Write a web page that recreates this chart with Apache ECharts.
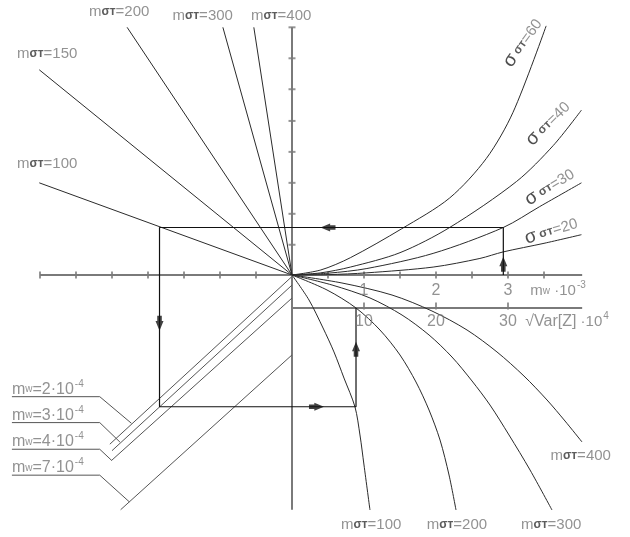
<!DOCTYPE html>
<html>
<head>
<meta charset="utf-8">
<script src="https://cdn.jsdelivr.net/npm/echarts@6/dist/echarts.min.js"></script>
<style>
html,body{margin:0;padding:0;background:#fff}
#nomo{width:630px;height:537px}
</style>
</head>
<body>
<div id="nomo"></div>
<script>
// x: mw in 1e-3 (sqrt Var[Z] in 1e-4 is x*10), y uses the same unit length
var mwTicks = [-3.5,-3,-2.5,-2,-1.5,-1,-0.5,0.5,1,1.5,2,2.5,3,3.5];
var mwTickLabels = [1,2,3];
var varTicks = [10,20,30];
var upperTicks = [0.42,0.85,1.28,1.71,2.14,2.58,3.01,3.44];
var varAxisY = -0.46;

// straight m_sigma_T rays, upper left (from origin)
var fanNames = [100,150,200,300,400];
var fanEnds = [[-3.51,1.28],[-3.51,2.85],[-2.29,3.44],[-0.96,3.44],[-0.53,3.44]];

// sigma_sigmaT curves, upper right
var sigmaNames = [20,30,40,60];
var sigma20 = [[0,0],[0.5,0.005],[1.04,0.03],[1.96,0.11],[2.61,0.23],[2.93,0.32],[3.5,0.44],[4.02,0.56]];
var sigma30 = [[0,0],[0.5,0.025],[1.04,0.09],[1.96,0.30],[2.935,0.66],[3.44,0.95],[4.02,1.28]];
var sigma40 = [[0,0],[0.4,0.03],[0.81,0.11],[1.5,0.31],[2.19,0.66],[3.12,1.30],[3.63,1.80],[4.02,2.29]];
var sigma60 = [[0,0],[0.4,0.07],[0.81,0.24],[1.52,0.64],[2.19,1.07],[2.70,1.62],[3.07,2.26],[3.53,3.46]];

// m_sigma_T curves, lower right
var lowNames = [100,200,300,400];
var low100 = [[0,0],[0.236,-0.347],[0.431,-0.736],[0.583,-1.069],[0.722,-1.431],[0.875,-1.833],[0.944,-2.222],[1.0,-2.639],[1.083,-3.264]];
var low200 = [[0,0],[0.486,-0.208],[0.889,-0.458],[1.222,-0.764],[1.5,-1.111],[1.722,-1.486],[1.903,-1.875],[2.056,-2.292],[2.181,-2.778],[2.278,-3.264]];
var low300 = [[0,0],[0.556,-0.139],[1.083,-0.319],[1.528,-0.556],[1.903,-0.833],[2.222,-1.139],[2.5,-1.472],[2.75,-1.806],[3.014,-2.222],[3.306,-2.708],[3.611,-3.264]];
var low400 = [[0,0],[0.694,-0.111],[1.389,-0.278],[1.944,-0.5],[2.431,-0.764],[2.847,-1.069],[3.222,-1.403],[3.542,-1.736],[3.792,-2.028],[4.028,-2.319]];

// mw lines, lower left
var mwNames = [2,3,4,7];
var mwLines = [
  [[-0.01,-0.03],[-2.53,-2.35]],
  [[0,-0.14],[-2.50,-2.44]],
  [[0,-0.32],[-2.50,-2.57]],
  [[0,-1.11],[-2.38,-3.26]]
];
var mwLeaders = [
  [[-3.89,-1.69],[-2.67,-1.69],[-2.23,-2.06]],
  [[-3.89,-2.05],[-2.67,-2.05],[-2.39,-2.32]],
  [[-3.89,-2.42],[-2.67,-2.42],[-2.50,-2.58]],
  [[-3.89,-2.78],[-2.67,-2.78],[-2.26,-3.15]]
];

// worked example path
var route = [[2.935,0],[2.935,0.66],[-1.84,0.66],[-1.84,-1.83],[0.889,-1.83],[0.889,varAxisY]];
var arrowUp = [[2.935,0.15],[0.889,-1.03]];
var arrowLeft = [[0.50,0.66]];
var arrowDown = [[-1.84,-0.67]];
var arrowRight = [[0.34,-1.83]];

// text anchors
var fanLabelAt = [[-3.40,1.55],[-3.40,3.07],[-2.40,3.66],[-1.24,3.60],[-0.15,3.60]];
var lowLabelAt = [[1.10,-3.47],[2.29,-3.47],[3.60,-3.47],[4.01,-2.51]];
var sigmaLabelAt = [[3.60,0.61],[3.58,1.22],[3.56,2.10],[3.21,3.22]];
var sigmaLabelRot = [16,31,44,54];

var INK = '#2b2b2b';
var AXIS = '#7a7a7a';
var TXT = '#777';
var FONT = 'Liberation Sans';

function line(data, color, width, smooth) {
  return {
    type: 'line', data: data, smooth: smooth ? 0.3 : false, symbol: 'none',
    silent: true, animation: false,
    lineStyle: { color: color, width: width }
  };
}

var rich = {
  m: { fontFamily: FONT, fontSize: 15, color: TXT },
  s: { fontFamily: FONT, fontSize: 12, color: '#333', fontWeight: 'bold' },
  g: { fontFamily: FONT, fontSize: 19, color: '#222' },
  w: { fontFamily: FONT, fontSize: 10, color: TXT },
  n: { fontFamily: FONT, fontSize: 15, color: TXT },
  k: { fontFamily: FONT, fontSize: 16, color: TXT },
  sup: { fontFamily: FONT, fontSize: 10, color: TXT, padding: [0, 0, 11, 1] },
  t: { fontFamily: FONT, fontSize: 16, color: TXT }
};

var texts = [];
fanNames.forEach(function (v, i) {
  texts.push({ value: fanLabelAt[i], name: '{m|m}{s|σт}{n|=' + v + '}' });
});
lowNames.forEach(function (v, i) {
  texts.push({ value: lowLabelAt[i], name: '{m|m}{s|σт}{n|=' + v + '}' });
});
sigmaNames.forEach(function (v, i) {
  texts.push({ value: sigmaLabelAt[i], name: '{g|σ}{s| σт}{n|=' + v + '}', label: { rotate: sigmaLabelRot[i] } });
});
mwTickLabels.forEach(function (v) {
  texts.push({ value: [v, -0.22], name: '{t|' + v + '}' });
});
varTicks.forEach(function (v) {
  texts.push({ value: [v / 10, -0.65], name: '{t|' + v + '}' });
});
texts.push({ value: [3.31, -0.22], name: '{m|m}{w|w}{n| ·10}{sup|-3}', label: { align: 'left' } });
texts.push({ value: [3.24, -0.65], name: '{t|√Var[Z]}{n| ·10}{sup|4}', label: { align: 'left' } });
mwNames.forEach(function (v, i) {
  texts.push({ value: [mwLeaders[i][0][0], mwLeaders[i][0][1] + 0.1], name: '{k|m}{w|w}{k|=' + v + '·10}{sup|-4}', label: { align: 'left' } });
});

var arrowPath = 'path://M3.5,0 L7,9 L5.5,9 L5.5,14 L1.5,14 L1.5,9 L0,9 Z';
function arrows(data, rot) {
  return {
    type: 'scatter', data: data, symbol: arrowPath, symbolSize: [8, 15],
    symbolRotate: rot, itemStyle: { color: '#111' }, silent: true, animation: false, z: 5
  };
}

var series = [];
// axes
series.push(line([[-3.5,0],[4.03,0]], AXIS, 2));
series.push(line([[0,3.44],[0,-3.26]], AXIS, 2));
series.push(line([[0,varAxisY],[4.03,varAxisY]], AXIS, 2));
series.push({
  type: 'scatter', symbol: 'rect', symbolSize: [2, 7], silent: true, animation: false,
  itemStyle: { color: AXIS },
  data: mwTicks.map(function (t) { return [t, 0]; })
    .concat(varTicks.map(function (t) { return [t / 10, varAxisY + 0.03]; }))
});
series.push({
  type: 'scatter', symbol: 'rect', symbolSize: [7, 2], silent: true, animation: false,
  itemStyle: { color: AXIS },
  data: upperTicks.map(function (t) { return [0, t]; })
});
// fan rays
fanEnds.forEach(function (e) { series.push(line([[0,0], e], INK, 1)); });
[sigma20, sigma30, sigma40, sigma60].forEach(function (c) { series.push(line(c, INK, 1, true)); });
[low100, low200, low300, low400].forEach(function (c) { series.push(line(c, INK, 1, true)); });
mwLines.forEach(function (c) { series.push(line(c, '#555', 1)); });
mwLeaders.forEach(function (c) { series.push(line(c, '#555', 1)); });
series.push(line(route, '#111', 1.2));
series.push(arrows(arrowUp, 0));
series.push(arrows(arrowDown, 180));
series.push(arrows(arrowLeft, 90));
series.push(arrows(arrowRight, -90));
series.push({
  type: 'scatter', data: texts, symbolSize: 0, silent: true, animation: false, z: 6,
  label: {
    show: true, position: 'inside', align: 'center', verticalAlign: 'middle',
    formatter: function (p) { return p.name; }, rich: rich
  }
});

var chart = echarts.init(document.getElementById('nomo'));
chart.setOption({
  animation: false,
  backgroundColor: '#fff',
  grid: { left: 0, right: 0, top: 0, bottom: 0 },
  xAxis: { type: 'value', min: -292 / 72, max: 338 / 72, show: false },
  yAxis: { type: 'value', min: -262 / 72, max: 275 / 72, show: false },
  series: series
});
</script>
</body>
</html>
